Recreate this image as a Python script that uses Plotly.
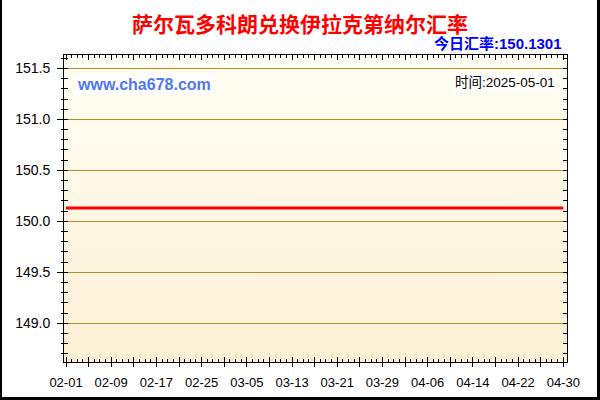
import base64
import datetime as dt
import plotly.graph_objects as go

# data (flat line for the whole period)
dates = ['2025-02-01', '2025-04-30']
rates = [150.1301, 150.1301]
today_rate = '150.1301'
update_date = '2025-05-01'
x_labels = ['02-01', '02-09', '02-17', '02-25', '03-05', '03-13',
            '03-21', '03-29', '04-06', '04-14', '04-22', '04-30']
y_ticks = [149.0, 149.5, 150.0, 150.5, 151.0, 151.5]

W, H = 600, 400
L, R, T, B = 64, 33, 55, 38
PW, PH = W - L - R, H - T - B


def px(x):
    return (x - L) / PW


def py(y):
    return (H - B - y) / PH


# major ticks every 4 days, labels only every 8
d0 = dt.date.fromisoformat(dates[0])
tick_vals = [(d0 + dt.timedelta(days=4 * i)).isoformat() for i in range(2 * len(x_labels) - 1)]
tick_text = [x_labels[i // 2] if i % 2 == 0 else '' for i in range(len(tick_vals))]

x_range = ['2025-01-31 15:30', '2025-04-30 15:50']
y_range = [148.62, 151.632]

svg = ('<svg xmlns="http://www.w3.org/2000/svg" width="10" height="100" preserveAspectRatio="none">'
       '<defs><linearGradient id="g" x1="0" y1="0" x2="0" y2="1">'
       '<stop offset="0" stop-color="#FFFEF4"/><stop offset="1" stop-color="#FDF0D6"/>'
       '</linearGradient></defs><rect width="10" height="100" fill="url(#g)"/></svg>')
bg_src = 'data:image/svg+xml;base64,' + base64.b64encode(svg.encode()).decode()

tick_font = dict(family='Liberation Sans, Arial', color='#000000')

fig = go.Figure()
fig.add_trace(go.Scatter(
    x=dates, y=rates, mode='lines',
    line=dict(color='#FF0000', width=3),
    hoverinfo='skip', showlegend=False
))
# invisible trace so the overlay axes get drawn
fig.add_trace(go.Scatter(
    x=dates, y=rates, mode='lines', xaxis='x2', yaxis='y2',
    line=dict(color='rgba(0,0,0,0)', width=0),
    hoverinfo='skip', showlegend=False
))

fig.update_layout(
    width=W, height=H,
    margin=dict(l=L, r=R, t=T, b=B, autoexpand=False),
    paper_bgcolor='white',
    plot_bgcolor='rgba(0,0,0,0)',
    xaxis=dict(
        type='date', range=x_range, automargin=False,
        tickmode='array', tickvals=tick_vals, ticktext=tick_text,
        ticks='outside', ticklen=4, tickcolor='black', tickwidth=1,
        showline=True, linecolor='black', linewidth=1,
        showgrid=False, zeroline=False,
        tickfont=dict(size=13, **tick_font),
        ticklabelstandoff=4,
    ),
    xaxis2=dict(
        type='date', range=x_range, overlaying='x', matches='x', anchor='y', side='bottom',
        automargin=False,
        tickmode='linear', tick0=dates[0], dtick=4 * 86400000,
        ticks='inside', ticklen=5, tickcolor='black',
        minor=dict(ticks='inside', ticklen=3, dtick=86400000, tick0=dates[0], tickcolor='black'),
        showticklabels=False, showline=True, linecolor='black', mirror='ticks',
        showgrid=False, zeroline=False,
    ),
    yaxis=dict(
        range=y_range, automargin=False, tickmode='array', tickvals=y_ticks,
        ticktext=[f'{v:.1f}' for v in y_ticks],
        ticks='outside', ticklen=6, tickcolor='black',
        minor=dict(ticks='outside', ticklen=2, dtick=0.1, tick0=149.0, tickcolor='black'),
        showline=True, linecolor='black', linewidth=1,
        showgrid=True, gridcolor='#B98B24', gridwidth=1, zeroline=False,
        tickfont=dict(size=14, **tick_font),
        ticklabelstandoff=4,
    ),
    yaxis2=dict(
        range=y_range, overlaying='y', matches='y', anchor='x', side='left',
        automargin=False,
        tickmode='linear', tick0=149.0, dtick=0.5,
        ticks='inside', ticklen=4, tickcolor='black',
        minor=dict(ticks='inside', ticklen=4, dtick=0.1, tick0=149.0, tickcolor='black'),
        showticklabels=False, showline=True, linecolor='black', mirror='ticks',
        showgrid=False, zeroline=False,
    ),
    images=[dict(source=bg_src, xref='paper', yref='paper', x=0, y=1,
                 sizex=1, sizey=1, sizing='stretch', layer='below',
                 xanchor='left', yanchor='top')],
)

cjk = 'Liberation Sans, Arial, Noto Sans CJK SC'
fig.add_annotation(
    text='<b>萨尔瓦多科朗兑换伊拉克第纳尔汇率</b>', xref='paper', yref='paper',
    x=px(300), y=py(23), xanchor='center', yanchor='middle', showarrow=False,
    font=dict(family='Noto Sans CJK SC', size=21, color='#FF0000'))
fig.add_annotation(
    text=f'<b>今日汇率:{today_rate}</b>', xref='paper', yref='paper',
    x=px(564), y=py(44), xanchor='right', yanchor='middle', showarrow=False,
    font=dict(family=cjk, size=15, color='#0000FF'))
fig.add_annotation(
    text='<b>www.cha678.com</b>', xref='paper', yref='paper',
    x=px(75), y=py(84), xanchor='left', yanchor='middle', showarrow=False,
    bgcolor='white', borderpad=1,
    font=dict(family='Liberation Sans, Arial', size=16, color='#5079EE'))
fig.add_annotation(
    text=f'时间:{update_date}', xref='paper', yref='paper',
    x=px(557), y=py(82), xanchor='right', yanchor='middle', showarrow=False,
    bgcolor='white', borderpad=1,
    font=dict(family=cjk, size=13.5, color='#000000'))

# outer frame: left, right, bottom edges
frame = dict(color='black', width=3)
fig.add_shape(type='line', xref='paper', yref='paper',
              x0=px(1), x1=px(1), y0=py(0), y1=py(400), line=dict(color='black', width=2))
fig.add_shape(type='line', xref='paper', yref='paper',
              x0=px(598.5), x1=px(598.5), y0=py(0), y1=py(400), line=frame)
fig.add_shape(type='line', xref='paper', yref='paper',
              x0=px(0), x1=px(600), y0=py(398.5), y1=py(398.5), line=frame)

# drop the default body margin so the 600x400 figure fills the window
fig.write_html('out.html', config={'displayModeBar': False},
               post_script="document.body.style.margin='0';")
